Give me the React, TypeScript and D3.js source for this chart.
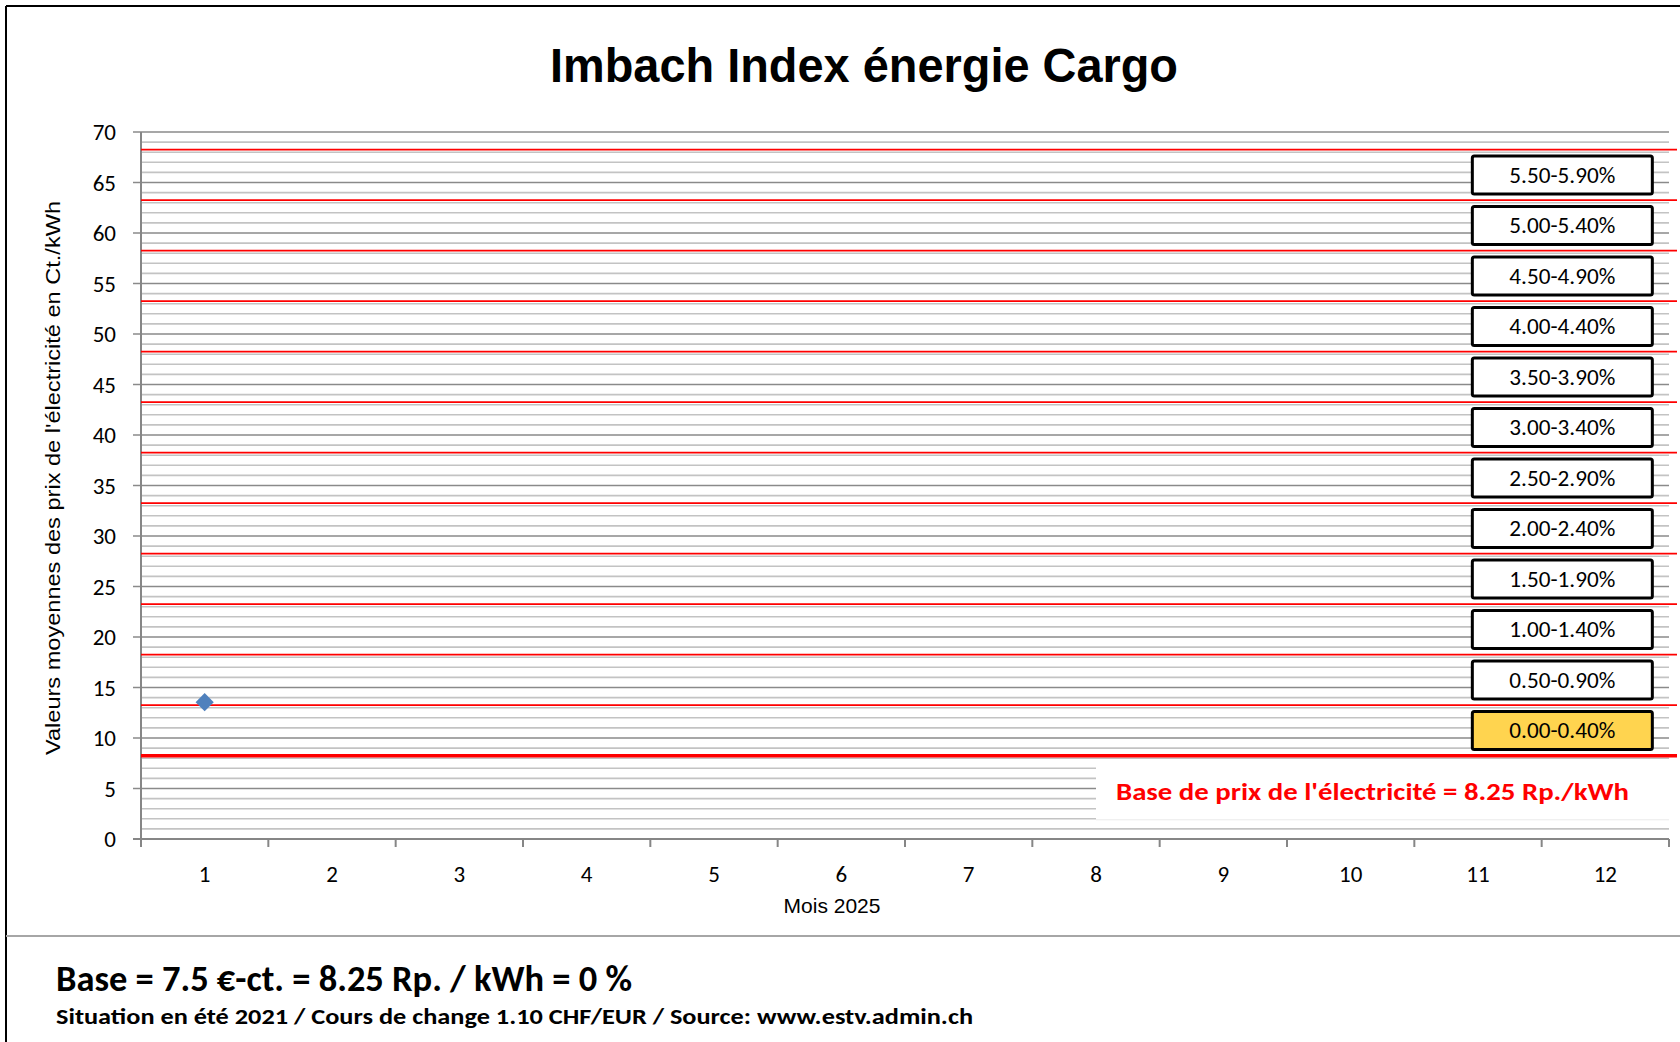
import React from "react";
import * as d3 from "d3";

// chart data
const months = ["1", "2", "3", "4", "5", "6", "7", "8", "9", "10", "11", "12"];
const prices = [13.55]; // only January 2025 is known so far
const bandLines = [8.25, 13.25, 18.25, 23.25, 28.25, 33.25, 38.25, 43.25, 48.25, 53.25, 58.25, 63.25, 68.25];
const bandLabels = [
  "0.00-0.40%",
  "0.50-0.90%",
  "1.00-1.40%",
  "1.50-1.90%",
  "2.00-2.40%",
  "2.50-2.90%",
  "3.00-3.40%",
  "3.50-3.90%",
  "4.00-4.40%",
  "4.50-4.90%",
  "5.00-5.40%",
  "5.50-5.90%",
];
const highlightBand = "0.00-0.40%";
const yTicks = [0, 5, 10, 15, 20, 25, 30, 35, 40, 45, 50, 55, 60, 65, 70];

const W = 1680;
const H = 1042;
const margin = { left: 141, right: 11, top: 132, bottom: 203 };

const calibri = "Carlito, Calibri, Lato, sans-serif";
const arial = "'Liberation Sans', Arial, sans-serif";

export default function App() {
  const x = d3
    .scaleBand<string>()
    .domain(months)
    .range([margin.left, W - margin.right]);
  const y = d3
    .scaleLinear()
    .domain([0, 70])
    .range([H - margin.bottom, margin.top]);

  const x0 = margin.left;
  const x1 = W - margin.right;
  const bw = x.bandwidth();

  const minor = y.ticks(70).filter((v) => v % 5 !== 0);
  const major = yTicks.filter((v) => v > 0);

  // label boxes sit in the right part of the last month
  const boxW = 180;
  const boxH = 38;
  const boxX = x("12")! + bw / 2 - 133;

  // white panel behind the base label
  const panelX = x("8")! + bw / 2;
  const panelTop = y(7.6);
  const panelBottom = y(1.9);

  const diamond = d3.symbol().type(d3.symbolDiamond2).size(210)();

  return (
    <>
      <style>{`body{margin:0;overflow:hidden}`}</style>
      <svg width={W} height={H} style={{ display: "block", background: "#fff" }}>
        {/* outer frame */}
        <line x1={6} x2={6} y1={6} y2={H} stroke="#000" strokeWidth={2} />
        <line x1={6} x2={W} y1={6} y2={6} stroke="#000" strokeWidth={2} />
        <line x1={6} x2={W} y1={936} y2={936} stroke="#a6a6a6" strokeWidth={2} />

        <text
          x={864}
          y={82}
          textAnchor="middle"
          fontFamily={arial}
          fontWeight="bold"
          fontSize={48}
          textLength={628}
          lengthAdjust="spacingAndGlyphs"
        >
          Imbach Index énergie Cargo
        </text>

        {/* gridlines */}
        {minor.map((v) => (
          <line key={"m" + v} x1={x0} x2={x1} y1={y(v)} y2={y(v)} stroke="#c3c3c3" strokeWidth={1.6} />
        ))}
        {major.map((v) => (
          <line key={"M" + v} x1={x0 - 8} x2={x1} y1={y(v)} y2={y(v)} stroke="#8a8a8a" strokeWidth={1.6} />
        ))}

        {/* base label panel */}
        <rect x={panelX} y={panelTop} width={x1 - panelX} height={panelBottom - panelTop} fill="#fff" />
        <line x1={panelX} x2={x1} y1={panelBottom} y2={panelBottom} stroke="#ececec" strokeWidth={1} />

        {/* axes */}
        <line x1={x0} x2={x0} y1={y(70)} y2={y(0)} stroke="#868686" strokeWidth={2} />
        <line x1={x0 - 8} x2={x1} y1={y(0)} y2={y(0)} stroke="#868686" strokeWidth={2} />
        {months.map((m) => (
          <line key={"t" + m} x1={x(m)!} x2={x(m)!} y1={y(0)} y2={y(0) + 8} stroke="#868686" strokeWidth={2} />
        ))}
        <line x1={x1} x2={x1} y1={y(0)} y2={y(0) + 8} stroke="#868686" strokeWidth={2} />

        {/* band lines */}
        {bandLines.map((v, i) => (
          <line
            key={"b" + v}
            x1={x0}
            x2={W - 3}
            y1={y(v)}
            y2={y(v)}
            stroke="#ff0000"
            strokeWidth={i === 0 ? 3.6 : 1.8}
          />
        ))}

        {/* band labels */}
        {bandLabels.map((label, i) => {
          const cy = y((bandLines[i] + bandLines[i + 1]) / 2);
          return (
            <g key={label}>
              <rect
                x={boxX}
                y={cy - boxH / 2}
                width={boxW}
                height={boxH}
                rx={2}
                fill={label === highlightBand ? "#ffd44f" : "#fff"}
                stroke="#000"
                strokeWidth={3}
              />
              <text
                x={boxX + boxW / 2}
                y={cy}
                dy="0.36em"
                textAnchor="middle"
                fontFamily={calibri}
                fontSize={22}
                fill="#000"
                textLength={106}
                lengthAdjust="spacingAndGlyphs"
              >
                {label}
              </text>
            </g>
          );
        })}

        <text
          x={1116}
          y={(panelTop + panelBottom) / 2}
          dy="0.36em"
          fontFamily={calibri}
          fontWeight="bold"
          fontSize={25}
          fill="#ff0000"
          textLength={513}
          lengthAdjust="spacingAndGlyphs"
        >
          Base de prix de l'électricité = 8.25 Rp./kWh
        </text>

        {/* data points */}
        {prices.map((v, i) => (
          <path
            key={"p" + i}
            d={diamond!}
            transform={`translate(${x(months[i])! + bw / 2},${y(v)})`}
            fill="#4f81bd"
          />
        ))}

        {/* tick labels */}
        {yTicks.map((v) => (
          <text
            key={"yl" + v}
            x={116}
            y={y(v)}
            dy="0.36em"
            textAnchor="end"
            fontFamily={calibri}
            fontSize={23}
            fill="#000"
          >
            {v}
          </text>
        ))}
        {months.map((m) => (
          <text
            key={"xl" + m}
            x={x(m)! + bw / 2}
            y={874}
            dy="0.36em"
            textAnchor="middle"
            fontFamily={calibri}
            fontSize={23}
            fill="#000"
          >
            {m}
          </text>
        ))}

        <text x={832} y={905} dy="0.36em" textAnchor="middle" fontFamily={arial} fontSize={21} fill="#000">
          Mois 2025
        </text>
        <text
          transform="translate(52,478) rotate(-90)"
          textAnchor="middle"
          dy="0.36em"
          fontFamily={arial}
          fontSize={21}
          fill="#000"
          textLength={554}
          lengthAdjust="spacingAndGlyphs"
        >
          Valeurs moyennes des prix de l'électricité en Ct./kWh
        </text>

        {/* footer */}
        <text
          x={56}
          y={991}
          fontFamily={calibri}
          fontWeight="bold"
          fontSize={36}
          fill="#000"
          textLength={576}
          lengthAdjust="spacingAndGlyphs"
        >
          Base = 7.5 €-ct. = 8.25 Rp. / kWh = 0 %
        </text>
        <text
          x={56}
          y={1024}
          fontFamily={calibri}
          fontWeight="bold"
          fontSize={23}
          fill="#000"
          textLength={917}
          lengthAdjust="spacingAndGlyphs"
        >
          Situation en été 2021 / Cours de change 1.10 CHF/EUR / Source: www.estv.admin.ch
        </text>
      </svg>
    </>
  );
}
